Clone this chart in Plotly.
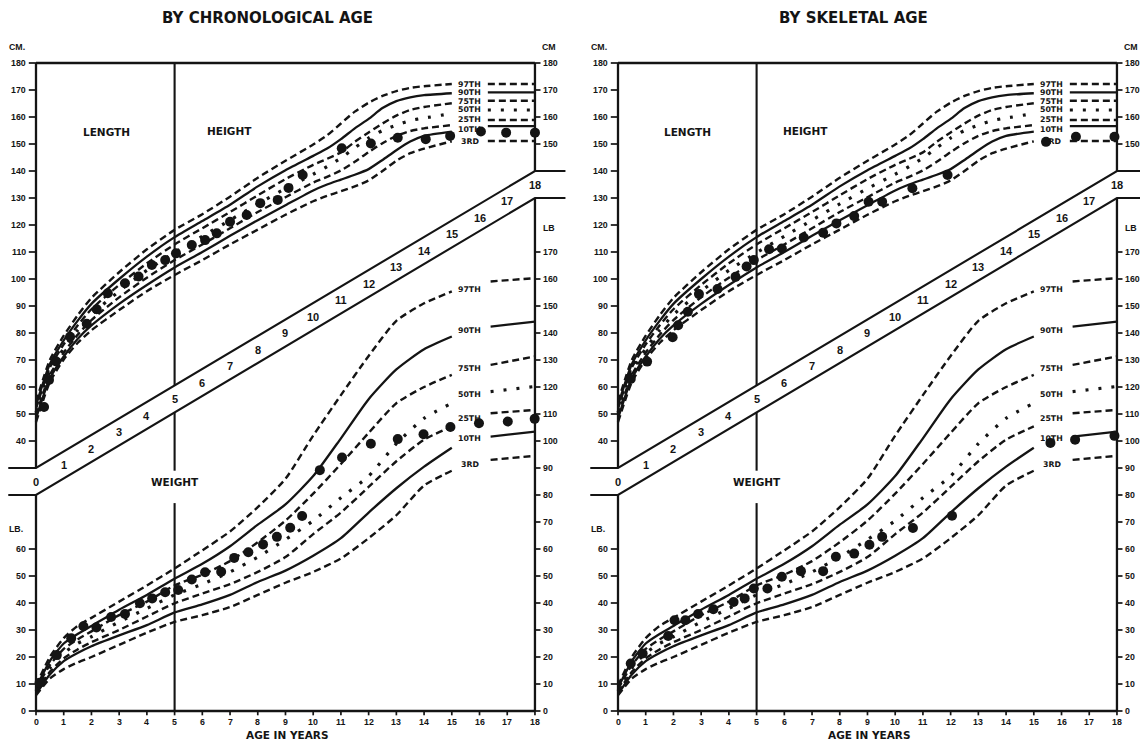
import plotly.graph_objects as go

# ---------------- percentile curves (same template on both panels) ----------------
PCT_NAMES = ["97TH", "90TH", "75TH", "50TH", "25TH", "10TH", "3RD"]
PCT_STYLE = ["dash", "solid", "dash", "dot", "dash", "solid", "dash"]

H_AGES = [0, 0.5, 1, 1.5, 2, 3, 4, 5, 6, 7, 8, 9, 10, 10.5, 11, 11.5, 12, 12.5, 13, 13.5, 14, 15]
H_P97 = [54.5, 70.0, 79.0, 86.5, 93.0, 102.5, 111.0, 118.2, 124.0, 130.5, 137.5, 143.8, 149.8, 153.2, 157.6, 162.0, 165.3, 167.8, 169.6, 170.8, 171.4, 172.2]
H_P90 = [53.2, 68.5, 77.3, 84.5, 90.8, 100.0, 108.3, 115.5, 121.5, 127.5, 134.3, 140.3, 145.6, 148.3, 151.8, 155.8, 159.3, 163.3, 165.9, 167.3, 168.1, 168.8]
H_P75 = [52.0, 67.2, 75.8, 82.8, 88.8, 97.8, 105.8, 112.8, 118.8, 124.8, 131.0, 137.0, 142.3, 144.5, 146.9, 150.8, 154.3, 157.6, 160.5, 162.6, 163.7, 165.1]
H_P50 = [50.5, 65.8, 74.2, 81.0, 86.8, 95.5, 103.2, 109.8, 115.8, 121.8, 127.8, 133.5, 138.8, 141.6, 144.8, 148.6, 152.2, 155.0, 157.0, 158.7, 159.6, 161.3]
H_P25 = [49.5, 64.5, 72.7, 79.3, 84.8, 93.2, 100.5, 107.0, 112.8, 118.8, 124.8, 130.3, 135.7, 137.8, 140.2, 143.4, 147.0, 150.3, 153.0, 154.8, 155.8, 157.0]
H_P10 = [48.3, 63.2, 71.3, 77.8, 82.8, 90.8, 97.8, 104.3, 110.0, 116.0, 121.8, 127.3, 132.8, 135.0, 136.8, 138.6, 140.7, 144.1, 147.7, 150.9, 153.0, 154.6]
H_P3 = [47.0, 61.8, 70.2, 76.3, 81.0, 88.5, 95.5, 101.5, 107.0, 112.8, 118.3, 123.8, 128.8, 130.8, 132.5, 134.3, 136.5, 140.0, 143.8, 146.6, 148.3, 151.0]

W_AGES = [0, 0.5, 1, 1.5, 2, 3, 4, 5, 6, 7, 8, 9, 10, 11, 12, 13, 14, 15]
W_P97 = [9.4, 20.0, 27.0, 31.5, 34.5, 40.5, 46.5, 52.8, 59.5, 66.5, 75.5, 86.0, 102.0, 117.0, 131.5, 144.5, 151.0, 155.4]
W_P90 = [8.6, 18.5, 25.0, 28.5, 31.5, 37.5, 43.0, 49.0, 54.5, 61.0, 69.0, 76.5, 87.0, 101.0, 115.5, 126.5, 134.0, 138.7]
W_P75 = [8.1, 17.0, 23.0, 26.5, 29.5, 35.5, 40.5, 46.5, 50.5, 55.5, 62.5, 70.5, 80.5, 91.5, 103.0, 114.0, 120.0, 124.5]
W_P50 = [7.4, 16.0, 21.5, 25.0, 27.5, 33.0, 38.0, 43.0, 47.0, 51.5, 57.0, 63.5, 70.5, 79.0, 87.0, 99.0, 108.4, 114.0]
W_P25 = [6.9, 14.5, 19.5, 22.8, 25.5, 30.0, 35.0, 39.9, 43.5, 47.0, 51.5, 57.0, 65.5, 73.5, 83.0, 92.5, 100.5, 105.4]
W_P10 = [6.2, 13.5, 18.5, 21.5, 24.0, 28.0, 31.8, 36.5, 39.5, 43.0, 47.8, 52.0, 57.5, 64.0, 73.5, 82.5, 90.5, 97.5]
W_P3 = [5.8, 12.0, 15.5, 18.0, 20.0, 24.5, 29.0, 33.0, 35.5, 38.5, 43.0, 47.5, 51.5, 56.5, 64.0, 72.5, 83.5, 89.0]

# legend stubs / labels at right end
H_STUB_AGES = [16.3, 18]
H_STUB_CM = [172.2, 169.1, 166.0, 162.6, 158.9, 156.6, 151.1]
H_LABEL_CM = [172.2, 169.1, 165.9, 162.6, 158.9, 155.3, 151.1]
W_STUB_AGES = [16.4, 18]
W_STUB_START = [159.1, 142.4, 128.2, 118.3, 110.3, 101.6, 93.0]
W_STUB_END = [160.3, 144.2, 131.3, 120.2, 111.5, 103.5, 94.5]
W_LABEL_LB = [156.2, 140.8, 127.0, 117.3, 108.4, 101.0, 91.4]
LABEL_AGE = 15.65

# ---------------- patient measurements ----------------
CHR_H_AGE = [0.29, 0.47, 0.72, 1.23, 1.83, 2.19, 2.59, 3.21, 3.7, 4.18, 4.66, 5.05, 5.62, 6.1, 6.52, 7.0, 7.6, 8.09, 8.72, 9.11, 9.62, 11.03, 12.08, 13.05, 14.06, 14.94, 16.05, 16.96, 18.0]
CHR_H_CM = [52.6, 62.6, 69.5, 78.6, 83.4, 88.8, 94.7, 98.4, 100.9, 105.2, 107.0, 109.5, 112.6, 114.4, 116.9, 121.2, 123.7, 128.1, 129.3, 133.7, 138.5, 148.4, 150.2, 152.3, 151.8, 153.0, 154.6, 154.2, 154.2]
CHR_W_AGE = [0.13, 0.75, 1.27, 1.71, 2.18, 2.71, 3.21, 3.75, 4.19, 4.66, 5.13, 5.62, 6.1, 6.68, 7.15, 7.66, 8.19, 8.69, 9.17, 9.6, 10.24, 11.04, 12.08, 13.05, 13.98, 14.95, 15.98, 17.02, 17.99]
CHR_W_LB = [10.5, 20.7, 26.9, 31.4, 30.9, 34.8, 35.9, 39.9, 41.7, 44.0, 44.8, 48.7, 51.4, 51.6, 56.7, 58.8, 61.7, 64.5, 67.9, 72.2, 89.2, 93.9, 99.0, 100.7, 102.5, 105.2, 106.6, 107.2, 108.2]

SKL_H_AGE = [0.46, 1.05, 1.97, 2.17, 2.52, 2.92, 3.59, 4.24, 4.64, 4.9, 5.45, 5.91, 6.7, 7.4, 7.88, 8.52, 9.04, 9.53, 10.62, 11.89, 15.44, 16.52, 17.91]
SKL_H_CM = [63.0, 69.4, 78.4, 82.9, 87.9, 94.4, 96.3, 100.8, 104.6, 107.0, 111.0, 111.3, 115.4, 117.1, 120.6, 123.3, 128.6, 128.6, 133.6, 138.5, 150.8, 152.7, 152.7]
SKL_W_AGE = [0.46, 0.89, 1.81, 2.04, 2.43, 2.89, 3.44, 4.17, 4.57, 4.9, 5.39, 5.91, 6.6, 7.4, 7.86, 8.52, 9.07, 9.53, 10.64, 12.05, 15.6, 16.49, 17.91]
SKL_W_LB = [17.6, 21.3, 27.8, 33.6, 33.6, 35.9, 37.7, 40.4, 41.7, 45.4, 45.4, 49.7, 51.8, 51.8, 57.1, 58.3, 61.6, 64.5, 67.8, 72.3, 99.3, 100.5, 101.9]

# ---------------- axis furniture ----------------
CM_TICKS_LEFT = [40, 50, 60, 70, 80, 90, 100, 110, 120, 130, 140, 150, 160, 170, 180]
LB_TICKS_LEFT = [0, 10, 20, 30, 40, 50, 60]
CM_TICKS_RIGHT = [150, 160, 170, 180]
LB_TICKS_RIGHT = [0, 10, 20, 30, 40, 50, 60, 70, 80, 90, 100, 110, 120, 130, 140, 150, 160, 170]
AGE_TICKS = list(range(0, 19))
BAND_AGE = [-1.0, 0, 18, 19.1]
BAND_UP = [30, 30, 140, 140]
BAND_LOW = [20, 20, 130, 130]

H_CURVES = [H_P97, H_P90, H_P75, H_P50, H_P25, H_P10, H_P3]
W_CURVES = [W_P97, W_P90, W_P75, W_P50, W_P25, W_P10, W_P3]

INK = "#141414"
PXY = 27.72          # pixels per year
CM_RANGE = [-72.222, 203.333]
LB_RANGE = [CM_RANGE[0] + 60, CM_RANGE[1] + 60]

F_TICK = dict(family="Liberation Sans, Arial, sans-serif", size=8.8, color=INK, weight="bold")
F_PCT = dict(family="DejaVu Sans, sans-serif", size=7.8, color=INK, weight="bold")
F_BAND = dict(family="Liberation Sans, Arial, sans-serif", size=11, color=INK, weight="bold")
F_LAB = dict(family="DejaVu Sans, sans-serif", size=10.5, color=INK, weight="bold")
F_TITLE = dict(family="DejaVu Sans, sans-serif", size=15, color=INK, weight="bold")


def dash_of(style):
    return {"dash": "7px,4px", "solid": "solid", "dot": "3px,10px"}[style]


def width_of(style):
    return {"dash": 2.4, "solid": 2.3, "dot": 3.2}[style]


fig = go.Figure()

panels = [
    dict(xa="x", ycm="y", ylb="y2", h_age=CHR_H_AGE, h_cm=CHR_H_CM, w_age=CHR_W_AGE, w_lb=CHR_W_LB,
         length_x=2.56, height_x=6.97),
    dict(xa="x2", ycm="y3", ylb="y4", h_age=SKL_H_AGE, h_cm=SKL_H_CM, w_age=SKL_W_AGE, w_lb=SKL_W_LB,
         length_x=2.49, height_x=6.75),
]


def band_at(a, arr):
    return arr[1] + (arr[2] - arr[1]) * a / 18.0


for p in panels:
    xa, ycm, ylb = p["xa"], p["ycm"], p["ylb"]

    def seg(xs, ys, yref, width=2.3, dash="solid"):
        fig.add_trace(go.Scatter(x=xs, y=ys, mode="lines", xaxis=xa, yaxis=yref,
                                 line=dict(color=INK, width=width, dash=dash),
                                 hoverinfo="skip", showlegend=False))

    # frame (in cm units; the lower part corresponds to lb = cm + 60)
    seg([0, 18], [180, 180], ycm)
    seg([0, 0], [180, BAND_UP[1]], ycm)
    seg([0, 0], [BAND_LOW[1], -60], ycm)
    seg([18, 18], [180, BAND_UP[2]], ycm)
    seg([18, 18], [BAND_LOW[2], -60], ycm)
    seg([0, 18], [-60, -60], ycm)
    # age band
    seg(BAND_AGE, BAND_UP, ycm, width=2.1)
    seg(BAND_AGE, BAND_LOW, ycm, width=2.1)
    # age-5 divider
    seg([5, 5], [180, band_at(5, BAND_UP)], ycm, width=2.1)
    seg([5, 5], [band_at(5, BAND_LOW), 29], ycm, width=2.1)
    seg([5, 5], [17, -60], ycm, width=2.1)

    # tick marks
    tx, ty = [], []
    for v in CM_TICKS_LEFT:
        tx += [-0.26, 0, None]; ty += [v, v, None]
    for v in LB_TICKS_LEFT:
        tx += [-0.26, 0, None]; ty += [v - 60, v - 60, None]
    for v in CM_TICKS_RIGHT:
        tx += [18, 18.2, None]; ty += [v, v, None]
    for v in LB_TICKS_RIGHT:
        tx += [18, 18.2, None]; ty += [v - 60, v - 60, None]
    for a in AGE_TICKS:
        tx += [a, a, None]; ty += [-60, -61.6, None]
    seg(tx, ty, ycm, width=1.7)

    # percentile curves
    for name, style, hc, wc in zip(PCT_NAMES, PCT_STYLE, H_CURVES, W_CURVES):
        fig.add_trace(go.Scatter(x=H_AGES, y=hc, mode="lines", xaxis=xa, yaxis=ycm, name="Height " + name,
                                 line=dict(color=INK, width=width_of(style), dash=dash_of(style), shape="spline", smoothing=0.6),
                                 hoverinfo="skip", showlegend=False))
        fig.add_trace(go.Scatter(x=W_AGES, y=wc, mode="lines", xaxis=xa, yaxis=ylb, name="Weight " + name,
                                 line=dict(color=INK, width=width_of(style), dash=dash_of(style), shape="spline", smoothing=0.6),
                                 hoverinfo="skip", showlegend=False))
    for i, (name, style) in enumerate(zip(PCT_NAMES, PCT_STYLE)):
        seg(H_STUB_AGES, [H_STUB_CM[i], H_STUB_CM[i]], ycm, width=width_of(style), dash=dash_of(style))
        seg(W_STUB_AGES, [W_STUB_START[i], W_STUB_END[i]], ylb, width=width_of(style), dash=dash_of(style))
        fig.add_annotation(x=LABEL_AGE, y=H_LABEL_CM[i], xref=xa, yref=ycm, text=name, showarrow=False,
                           font=F_PCT, xanchor="center", yanchor="middle")
        fig.add_annotation(x=LABEL_AGE, y=W_LABEL_LB[i], xref=xa, yref=ylb, text=name, showarrow=False,
                           font=F_PCT, xanchor="center", yanchor="middle")

    # patient dots
    fig.add_trace(go.Scatter(x=p["h_age"], y=p["h_cm"], mode="markers", xaxis=xa, yaxis=ycm, name="Height",
                             marker=dict(color=INK, size=10), showlegend=False))
    fig.add_trace(go.Scatter(x=p["w_age"], y=p["w_lb"], mode="markers", xaxis=xa, yaxis=ylb, name="Weight",
                             marker=dict(color=INK, size=10), showlegend=False))

    # tick labels
    for v in CM_TICKS_LEFT:
        fig.add_annotation(x=-0.3, y=v, xref=xa, yref=ycm, text=str(v), showarrow=False, font=F_TICK,
                           xanchor="right", yanchor="middle")
    for v in LB_TICKS_LEFT:
        fig.add_annotation(x=-0.3, y=v, xref=xa, yref=ylb, text=str(v), showarrow=False, font=F_TICK,
                           xanchor="right", yanchor="middle")
    for v in CM_TICKS_RIGHT:
        fig.add_annotation(x=18.22, y=v, xref=xa, yref=ycm, text=str(v), showarrow=False, font=F_TICK,
                           xanchor="left", yanchor="middle")
    for v in LB_TICKS_RIGHT:
        fig.add_annotation(x=18.22, y=v, xref=xa, yref=ylb, text=str(v), showarrow=False, font=F_TICK,
                           xanchor="left", yanchor="middle")
    for a in AGE_TICKS:
        fig.add_annotation(x=a, y=-3.9, xref=xa, yref=ylb, text=str(a), showarrow=False, font=F_TICK,
                           xanchor="center", yanchor="middle")
    # band numbers
    for a in AGE_TICKS:
        yc = (band_at(a, BAND_UP) + band_at(a, BAND_LOW)) / 2
        fig.add_annotation(x=a, y=yc, xref=xa, yref=ycm, text=str(a), showarrow=False, font=F_BAND,
                           xanchor="center", yanchor="middle")

    # unit labels and section labels
    fig.add_annotation(x=-0.69, y=185.9, xref=xa, yref=ycm, text="CM.", showarrow=False, font=F_TICK)
    fig.add_annotation(x=18.5, y=185.9, xref=xa, yref=ycm, text="CM", showarrow=False, font=F_TICK)
    fig.add_annotation(x=-0.72, y=67.4, xref=xa, yref=ylb, text="LB.", showarrow=False, font=F_TICK)
    fig.add_annotation(x=18.5, y=118.9, xref=xa, yref=ycm, text="LB", showarrow=False, font=F_TICK)
    fig.add_annotation(x=p["length_x"], y=154.6, xref=xa, yref=ycm, text="LENGTH", showarrow=False, font=F_LAB)
    fig.add_annotation(x=p["height_x"], y=154.8, xref=xa, yref=ycm, text="HEIGHT", showarrow=False, font=F_LAB)
    fig.add_annotation(x=5.0, y=84.8, xref=xa, yref=ylb, text="WEIGHT", showarrow=False, font=F_LAB)
    fig.add_annotation(x=9.06, y=-8.9, xref=xa, yref=ylb, text="AGE IN YEARS", showarrow=False, font=F_LAB)

fig.add_annotation(x=267 / 1140, y=1 - 18 / 744, xref="paper", yref="paper", text="BY CHRONOLOGICAL AGE",
                   showarrow=False, font=F_TITLE, xanchor="center", yanchor="middle")
fig.add_annotation(x=853 / 1140, y=1 - 18 / 744, xref="paper", yref="paper", text="BY SKELETAL AGE",
                   showarrow=False, font=F_TITLE, xanchor="center", yanchor="middle")

ax_common = dict(visible=False, fixedrange=True, showgrid=False, zeroline=False)
fig.update_layout(
    width=1140, height=744, autosize=False,
    margin=dict(l=0, r=0, t=0, b=0, pad=0),
    paper_bgcolor="white", plot_bgcolor="white",
    showlegend=False,
    xaxis=dict(domain=[0, 0.5], range=[-36 / PXY, (570 - 36) / PXY], anchor="y", **ax_common),
    xaxis2=dict(domain=[0.5, 1], range=[-(618 - 570) / PXY, (1140 - 618) / PXY], anchor="y3", **ax_common),
    yaxis=dict(domain=[0, 1], range=CM_RANGE, anchor="x", **ax_common),
    yaxis2=dict(domain=[0, 1], range=LB_RANGE, anchor="x", overlaying="y", **ax_common),
    yaxis3=dict(domain=[0, 1], range=CM_RANGE, anchor="x2", **ax_common),
    yaxis4=dict(domain=[0, 1], range=LB_RANGE, anchor="x2", overlaying="y3", **ax_common),
)

fig.write_html("out.html")
